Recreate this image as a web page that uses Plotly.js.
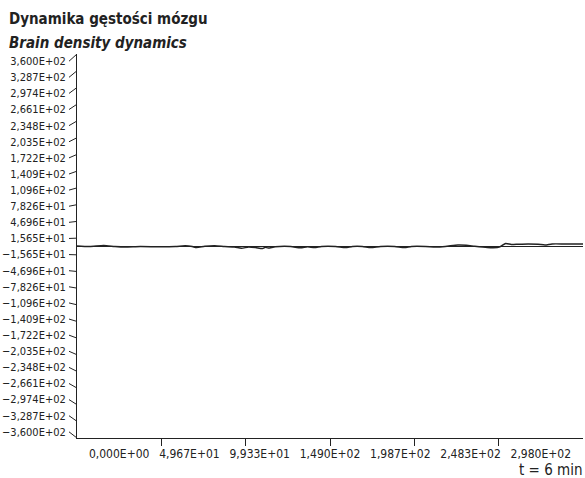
<!DOCTYPE html>
<html>
<head>
<meta charset="utf-8">
<script src="https://cdn.plot.ly/plotly-3.0.1.min.js"></script>
<style>
html,body{margin:0;padding:0;background:#fff;}
#chart{width:585px;height:478px;}
</style>
</head>
<body>
<div id="chart"></div>
<script>
// ---- data ----
const timeSeconds = [0, 9, 19, 27, 34, 45, 59, 70, 77, 82, 85, 91, 98, 105, 112, 117, 122, 127, 132, 134, 136, 141, 152, 159, 164, 169, 174, 184, 191, 196, 203, 209, 216, 226, 233, 238, 248, 255, 262, 271, 277, 283, 292, 296, 301, 305, 309, 314, 321, 328, 333, 338, 347, 360];
const densityValues = [1, 0, 2, 0, -1, 0, -0.5, 0, 1.5, 0, -2, 0.5, 1.5, 0, -1, -3.5, -1, -2, -4, -1.5, -3, -0.5, 0, -2.5, -0.5, -2, 0, 0, -2, 0, 0, -2, 0, 0, -2, 0, 0, -1, 0, 3, 2.5, 0.5, -2, -2.5, -0.5, 6, 4, 4.5, 5, 4.5, 3, 5, 5, 5];
const baselineTime = [0, 360];
const baselineValues = [0, 0];

const xTickMarks = [60, 120, 180, 240, 300];
const xLabelPositions = [30, 80, 130, 180, 230, 280, 330];
const xTickLabels = ['0,000E+00', '4,967E+01', '9,933E+01', '1,490E+02', '1,987E+02', '2,483E+02', '2,980E+02'];

const yTickValues = [360, 328.7, 297.4, 266.1, 234.8, 203.5, 172.2, 140.9, 109.6, 78.26, 46.96, 15.65,
  -15.65, -46.96, -78.26, -109.6, -140.9, -172.2, -203.5, -234.8, -266.1, -297.4, -328.7, -360];
const yTickLabels = ['3,600E+02', '3,287E+02', '2,974E+02', '2,661E+02', '2,348E+02', '2,035E+02', '1,722E+02',
  '1,409E+02', '1,096E+02', '7,826E+01', '4,696E+01', '1,565E+01',
  '\u22121,565E+01', '\u22124,696E+01', '\u22127,826E+01', '\u22121,096E+02', '\u22121,409E+02', '\u22121,722E+02',
  '\u22122,035E+02', '\u22122,348E+02', '\u22122,661E+02', '\u22122,974E+02', '\u22123,287E+02', '\u22123,600E+02'];

const titleLine1 = 'Dynamika gęstości mózgu';
const titleLine2 = 'Brain density dynamics';
const xAxisNote = 't = 6 min';

// ---- layout ----
const FONT = '"Liberation Sans Narrow", "Arial Narrow", "DejaVu Sans Condensed", sans-serif';
const yRange = [-372, 374];
const plotW = 506;
const tickSpanPx = 8;

const shapes = yTickValues.map(v => ({
  type: 'line', xref: 'paper', yref: 'y',
  x0: -tickSpanPx / plotW, y0: v,
  x1: 0, y1: v >= 0 ? v * yRange[1] / 360 : v * (-yRange[0]) / 360,
  line: {color: '#222', width: 1}
}));

const traces = [
  {x: timeSeconds, y: densityValues, type: 'scatter', mode: 'lines',
   line: {color: '#222', width: 1.5, shape: 'spline', smoothing: 0.6}, xaxis: 'x', yaxis: 'y', hoverinfo: 'skip'},
  {x: baselineTime, y: baselineValues, type: 'scatter', mode: 'lines',
   line: {color: '#222', width: 1.2}, xaxis: 'x2', yaxis: 'y', hoverinfo: 'skip'}
];

const layout = {
  width: 585, height: 478,
  margin: {l: 77, r: 2, t: 54, b: 40},
  paper_bgcolor: '#fff', plot_bgcolor: '#fff',
  showlegend: false,
  font: {family: FONT, size: 11, color: '#222'},
  xaxis: {
    range: [0, 360], showgrid: false, zeroline: false,
    showline: true, linecolor: '#222', linewidth: 1,
    tickmode: 'array', tickvals: xTickMarks, showticklabels: false,
    ticks: 'outside', ticklen: 7, tickwidth: 1, tickcolor: '#222'
  },
  xaxis2: {
    range: [0, 360], overlaying: 'x', anchor: 'y', side: 'bottom',
    showgrid: false, zeroline: false, showline: false,
    tickmode: 'array', tickvals: xLabelPositions, ticktext: xTickLabels,
    ticks: '', ticklabelstandoff: 7,
    tickfont: {family: FONT, size: 12, color: '#222'}
  },
  yaxis: {
    range: yRange, showgrid: false, zeroline: false,
    showline: true, linecolor: '#222', linewidth: 1,
    tickmode: 'array', tickvals: yTickValues, ticktext: yTickLabels,
    ticks: '', ticklabelstandoff: 8,
    tickfont: {family: FONT, size: 11, color: '#222'}
  },
  shapes: shapes,
  annotations: [
    {text: '<b>' + titleLine1 + '</b>', xref: 'paper', yref: 'paper', x: -77 / plotW, y: 1 + 35 / 384,
     xanchor: 'left', yanchor: 'middle', showarrow: false, xshift: 7,
     font: {family: FONT, size: 15, color: '#222'}},
    {text: '<b><i>' + titleLine2 + '</i></b>', xref: 'paper', yref: 'paper', x: -77 / plotW, y: 1 + 11 / 384,
     xanchor: 'left', yanchor: 'middle', showarrow: false, xshift: 7,
     font: {family: FONT, size: 15, color: '#222'}},
    {text: xAxisNote, xref: 'paper', yref: 'paper', x: 1, y: -32 / 384,
     xanchor: 'right', yanchor: 'middle', showarrow: false, xshift: 2,
     font: {family: FONT, size: 15, color: '#222'}}
  ]
};

Plotly.newPlot('chart', traces, layout, {staticPlot: true, displayModeBar: false});
</script>
</body>
</html>
